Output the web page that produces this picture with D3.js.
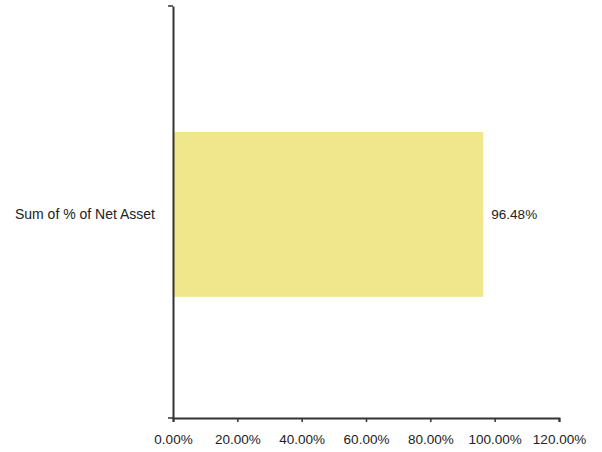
<html>
<head>
    <title>Net Asset</title>
    <style>
        body { margin: 0; background: #fff; }
    </style>
</head>
<body>
    <div id="chart-area"></div>
    <script src="https://d3js.org/d3.v7.min.js"></script>
    <script>

        const MARGIN = { LEFT: 173, RIGHT: 43, TOP: 6, BOTTOM: 34 }
        const WIDTH = 602 - MARGIN.LEFT - MARGIN.RIGHT
        const HEIGHT = 452 - MARGIN.TOP - MARGIN.BOTTOM

        // data
        const categories = ["Sum of % of Net Asset"]
        const values = [0.9648]
        const xTicks = [0, 0.2, 0.4, 0.6, 0.8, 1.0, 1.2]

        const svg = d3.select("#chart-area")
            .append("svg")
                .attr("width", 602)
                .attr("height", 452)

        const g = svg.append("g")
            .attr("transform", `translate(${MARGIN.LEFT}, ${MARGIN.TOP})`)

        const x = d3.scaleLinear()
            .domain([0, 1.2])
            .range([0, WIDTH])

        const y = d3.scaleBand()
            .domain(categories)
            .range([0, HEIGHT])
            .padding(0.4286)
            .align(0.51)

        // bars
        g.selectAll("rect.bar")
            .data(values).enter()
            .append("rect")
                .attr("class", "bar")
                .attr("x", 0)
                .attr("y", (d, i) => y(categories[i]))
                .attr("width", d => x(d))
                .attr("height", y.bandwidth())
                .attr("fill", "#F0E68C")

        // value labels
        g.selectAll("text.val")
            .data(values).enter()
            .append("text")
                .attr("class", "val")
                .attr("x", d => x(d) + 8)
                .attr("y", (d, i) => y(categories[i]) + y.bandwidth() / 2)
                .attr("dy", "0.35em")
                .attr("font-family", "Liberation Sans, Arial, sans-serif")
                .attr("font-size", "13.5px")
                .attr("fill", "#222")
                .text(d => d3.format(".2%")(d))

        // x axis
        const xAxis = d3.axisBottom(x)
            .tickValues(xTicks)
            .tickFormat(d3.format(".2%"))
            .tickSizeOuter(0)
            .tickSize(4)
            .tickPadding(12)

        const xg = g.append("g")
            .attr("transform", `translate(0, ${HEIGHT})`)
            .call(xAxis)
        xg.select(".domain").attr("stroke", "#333").attr("stroke-width", 2)
        xg.selectAll(".tick line").attr("stroke", "#333").attr("stroke-width", 1.5)
        xg.selectAll("text")
            .attr("font-family", "Liberation Sans, Arial, sans-serif")
            .attr("font-size", "13.5px")
            .attr("fill", "#222")

        // y axis: ticks at band edges
        const yAxis = d3.axisLeft(y)
            .tickSize(0)
            .tickPadding(18)

        const yg = g.append("g").call(yAxis)
        yg.select(".domain").attr("stroke", "#333").attr("stroke-width", 2)
        yg.selectAll("text")
            .attr("font-family", "Liberation Sans, Arial, sans-serif")
            .attr("font-size", "14px")
            .attr("fill", "#222")

        // small end ticks on y axis
        yg.selectAll("line.edge")
            .data(y.range()).enter()
            .append("line")
                .attr("class", "edge")
                .attr("x1", -5)
                .attr("x2", 0)
                .attr("y1", d => d)
                .attr("y2", d => d)
                .attr("stroke", "#333")
                .attr("stroke-width", 1.5)

    </script>
</body>
</html>
